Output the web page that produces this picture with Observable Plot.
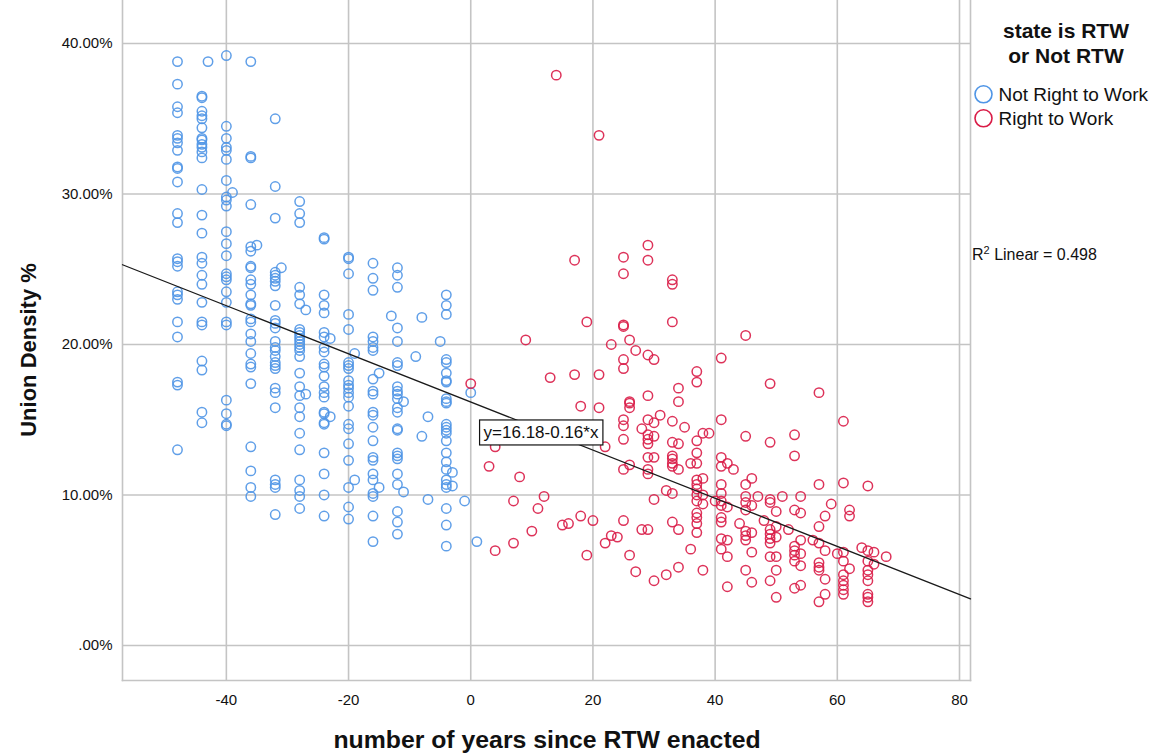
<!DOCTYPE html>
<html>
<head>
<meta charset="utf-8">
<script src="https://cdn.jsdelivr.net/npm/d3@7"></script>
<script src="https://cdn.jsdelivr.net/npm/@observablehq/plot@0.6"></script>
<style>
  body { margin: 0; background: #fff; font-family: "Liberation Sans", Arial, sans-serif; }
  #chart svg { display: block; }
</style>
</head>
<body>
<div id="chart"></div>
<script>
// ---- data ----
const groups = ["Not Right to Work", "Right to Work"];
const groupColors = ["#4f95e6", "#d91c47"];

// Not Right to Work: [years since RTW, [union density % ...]]
const notRtwColumns = [
  [-48, [38.8, 37.3, 35.8, 35.4, 33.9, 33.7, 33.4, 32.9, 31.8, 31.7, 30.8, 28.7, 28.1, 25.7, 25.5, 25.2, 23.5, 23.3, 23.0, 21.5, 20.5, 17.5, 17.3, 13.0]],
  [-44, [36.5, 36.4, 35.5, 35.2, 35.0, 34.4, 33.7, 33.6, 33.3, 33.1, 32.8, 32.4, 30.3, 28.6, 27.4, 25.8, 25.4, 24.6, 24.0, 22.8, 21.5, 21.3, 18.9, 18.3, 15.5, 14.8]],
  [-43, [38.8]],
  [-40, [39.2, 34.5, 33.7, 33.1, 32.9, 32.3, 30.9, 29.8, 29.6, 29.2, 27.5, 26.7, 25.9, 24.7, 24.5, 24.3, 23.5, 22.8, 21.5, 21.3, 16.3, 15.4, 14.7, 14.6]],
  [-39, [30.1]],
  [-36, [38.8, 32.5, 32.4, 29.3, 26.5, 26.2, 25.2, 25.1, 24.3, 24.0, 23.3, 22.7, 22.6, 21.7, 21.5, 20.7, 20.2, 19.4, 18.7, 18.5, 17.4, 13.2, 11.6, 10.5, 9.9]],
  [-35, [26.6]],
  [-32, [35.0, 30.5, 28.4, 24.8, 24.6, 24.4, 24.2, 23.9, 22.6, 21.6, 21.4, 21.1, 20.2, 19.8, 19.6, 19.2, 18.8, 18.6, 18.4, 17.1, 16.8, 15.8, 11.0, 10.7, 10.5, 8.7]],
  [-31, [25.1]],
  [-28, [29.5, 28.7, 28.1, 23.8, 23.3, 22.7, 21.0, 20.8, 20.6, 20.4, 20.2, 20.0, 19.8, 19.6, 19.2, 18.1, 17.2, 16.6, 15.8, 15.2, 14.1, 13.0, 11.0, 10.3, 9.9, 9.1]],
  [-27, [22.3, 16.7]],
  [-24, [27.0, 27.1, 23.3, 22.6, 22.1, 20.8, 20.5, 19.8, 19.5, 18.7, 18.5, 17.9, 17.2, 16.8, 16.5, 15.5, 15.4, 14.8, 14.7, 12.8, 11.4, 10.0, 8.6]],
  [-23, [20.4, 15.2]],
  [-20, [25.8, 25.7, 24.7, 22.0, 21.0, 18.8, 18.6, 18.4, 17.6, 17.3, 17.1, 16.8, 16.5, 15.9, 14.7, 14.4, 13.4, 12.3, 10.5, 9.2, 8.4]],
  [-19, [19.4, 11.0]],
  [-16, [25.4, 24.4, 23.6, 20.5, 20.2, 19.8, 19.6, 17.7, 16.9, 16.7, 15.5, 15.3, 14.5, 13.6, 12.5, 12.3, 11.4, 11.0, 10.1, 9.9, 8.6, 6.9]],
  [-15, [18.1, 10.5]],
  [-13, [21.9]],
  [-12, [25.1, 24.6, 23.8, 21.1, 20.2, 18.8, 18.6, 17.2, 16.9, 16.7, 16.4, 15.8, 15.5, 14.4, 14.3, 12.8, 12.6, 12.4, 11.4, 10.7, 8.9, 8.2, 7.4]],
  [-11, [16.2, 10.2]],
  [-9, [19.2]],
  [-8, [21.8, 13.9]],
  [-7, [15.2, 9.7]],
  [-5, [20.2]],
  [-4, [23.3, 22.6, 22.0, 19.0, 18.8, 18.1, 17.6, 17.5, 16.4, 16.2, 16.1, 14.7, 14.5, 14.3, 14.1, 13.6, 12.8, 12.2, 11.7, 11.0, 10.7, 10.5, 9.1, 8.0, 6.6]],
  [-3, [11.5, 10.6]],
  [-1, [9.6]],
  [0, [16.8]],
  [1, [6.9]]
];

// Right to Work: [years since RTW, [union density % ...]]
const rtwColumns = [
  [0, [17.4]], [3, [11.9]], [4, [13.2, 6.3]], [7, [9.6, 6.8]], [8, [11.2]], [9, [20.3]],
  [10, [7.6]], [11, [9.1]], [12, [9.9]], [13, [17.8]], [14, [37.9]], [15, [8.0]], [16, [8.1]],
  [17, [25.6, 18.0]], [18, [15.9, 8.6]], [19, [21.5, 6.0]], [20, [8.3]], [21, [33.9, 18.0, 15.8]],
  [22, [13.2, 6.8]], [23, [20.0, 7.3]], [24, [7.2]],
  [25, [25.8, 24.7, 21.3, 21.2, 19.0, 18.4, 15.0, 14.6, 13.7, 11.7, 8.3]],
  [26, [20.3, 16.2, 16.1, 15.8, 12.0, 6.0]], [27, [19.6, 4.9]], [28, [14.4, 7.7]],
  [29, [26.6, 25.6, 19.3, 16.6, 15.0, 14.0, 13.7, 13.4, 12.5, 11.7, 11.4, 7.7]],
  [30, [19.0, 14.8, 13.9, 12.5, 9.7, 4.3]], [31, [15.3]], [32, [10.3, 4.7]],
  [33, [24.3, 24.0, 21.5, 14.9, 13.5, 12.6, 12.4, 12.1, 11.9, 10.1, 8.2]],
  [34, [17.1, 16.2, 13.4, 11.7, 7.7, 5.2]], [35, [14.5]], [36, [12.1, 6.4]],
  [37, [18.2, 17.5, 13.6, 12.8, 12.1, 11.0, 10.7, 10.4, 10.0, 9.6, 8.8, 8.5, 8.1, 7.5]],
  [38, [14.1, 11.1, 10.0, 9.4, 5.0]], [39, [14.1]], [40, [9.6]],
  [41, [19.1, 15.0, 12.5, 11.9, 10.7, 10.1, 9.6, 9.3, 8.5, 8.2, 7.1, 6.4]],
  [42, [12.1, 9.2, 7.0, 5.9, 3.9]], [43, [11.7]], [44, [8.1]],
  [45, [20.6, 13.9, 10.7, 9.9, 9.5, 9.0, 7.6, 7.3, 7.0, 5.0]],
  [46, [11.1, 9.3, 7.5, 6.2, 4.2]], [47, [9.9]], [48, [8.3]],
  [49, [17.4, 13.5, 9.7, 9.5, 7.7, 7.4, 7.1, 6.8, 5.9, 4.3]],
  [50, [8.9, 7.9, 7.2, 5.9, 5.0, 3.2]], [51, [9.9]], [52, [7.7]],
  [53, [14.0, 12.6, 9.0, 6.6, 6.3, 6.0, 5.6, 3.8]],
  [54, [9.9, 8.8, 7.0, 6.1, 5.3, 4.0]], [56, [7.0]],
  [57, [16.8, 10.7, 7.9, 6.8, 5.5, 5.2, 5.0, 2.9]],
  [58, [8.6, 6.3, 4.4, 3.4]], [59, [9.4]], [60, [6.1]],
  [61, [14.9, 10.8, 6.2, 5.6, 4.7, 4.3, 4.0, 3.7, 3.4]],
  [62, [9.0, 8.6, 5.1]], [64, [6.5]],
  [65, [10.6, 6.3, 5.6, 5.0, 4.7, 4.3, 3.4, 3.2, 2.9]],
  [66, [6.2, 5.4]], [68, [5.9]]
];

const xTicks = [-40, -20, 0, 20, 40, 60, 80];
const yTicks = [0, 10, 20, 30, 40];
const fitIntercept = 16.18;
const fitSlope = -0.16;
const rSquared = 0.498;
const legendTitle = ["state is RTW", "or Not RTW"];
const xTitle = "number of years since RTW enacted";
const yTitle = "Union Density %";

// ---- build table ----
const points = [
  ...notRtwColumns.flatMap(([x, ys]) => ys.map(y => ({x, y, group: groups[0]}))),
  ...rtwColumns.flatMap(([x, ys]) => ys.map(y => ({x, y, group: groups[1]})))
];
const xDomain = [-57, 81.8];
const yDomain = [-2.33, 42.86];
const fitLine = xDomain.map(x => ({x, y: fitIntercept + fitSlope * x}));
const eqX = 2.1, eqY = 14.15;
const eqLabel = `y=${fitIntercept}${fitSlope < 0 ? "-" : "+"}${Math.abs(fitSlope)}*x`;

const gridColor = "#c4c4c4";
const chart = Plot.plot({
  width: 1164,
  height: 756,
  marginLeft: 122,
  marginRight: 194,
  marginTop: 0,
  marginBottom: 76,
  style: {fontFamily: "'Liberation Sans', Arial, sans-serif", fontSize: "15px", background: "#fff", color: "#111"},
  x: {domain: xDomain, ticks: xTicks, tickFormat: d => String(d), tickSize: 0, tickPadding: 14, label: null},
  y: {domain: yDomain, ticks: yTicks, tickFormat: d => (d === 0 ? ".00%" : d.toFixed(2) + "%"), tickSize: 0, tickPadding: 10, label: null},
  color: {domain: groups, range: groupColors},
  marks: [
    Plot.gridX(xTicks, {stroke: gridColor, strokeOpacity: 1, strokeWidth: 1.6}),
    Plot.gridY(yTicks, {stroke: gridColor, strokeOpacity: 1, strokeWidth: 1.6}),
    Plot.frame({anchor: "left", stroke: gridColor, strokeWidth: 1.6}),
    Plot.frame({anchor: "bottom", stroke: gridColor, strokeWidth: 1.6}),
    Plot.frame({anchor: "right", stroke: gridColor, strokeWidth: 1.6}),
    Plot.dot(points, {x: "x", y: "y", stroke: "group", r: 4.7, strokeWidth: 1.5, fill: "none", strokeOpacity: 0.9}),
    Plot.line(fitLine, {x: "x", y: "y", stroke: "#1a1a1a", strokeWidth: 1.3}),
    Plot.text([eqLabel], {x: eqX, y: eqY, text: d => d, textAnchor: "start", fontSize: 17, fill: "#111"})
  ]
});
document.getElementById("chart").appendChild(chart);

const svg = d3.select(chart);
// box around equation label
svg.selectAll("text").filter(function () { return this.textContent === eqLabel; }).each(function () {
  const bb = this.getBBox();
  const rect = document.createElementNS("http://www.w3.org/2000/svg", "rect");
  d3.select(rect)
    .attr("x", bb.x - 4).attr("y", bb.y - 3)
    .attr("width", bb.width + 8).attr("height", bb.height + 6)
    .attr("fill", "#fff").attr("stroke", "#111").attr("stroke-width", 1.2);
  const tr = this.getAttribute("transform");
  if (tr) rect.setAttribute("transform", tr);
  this.parentNode.insertBefore(rect, this);
});

const font = "'Liberation Sans', Arial, sans-serif";
// axis titles
svg.append("text").attr("x", 547).attr("y", 748).attr("text-anchor", "middle")
  .attr("font-family", font).attr("font-weight", "bold").attr("font-size", 24.8).attr("fill", "#111").text(xTitle);
svg.append("text").attr("transform", "translate(36,350) rotate(-90)").attr("text-anchor", "middle")
  .attr("font-family", font).attr("font-weight", "bold").attr("font-size", 22).attr("fill", "#111").text(yTitle);

// R² label
const r2 = svg.append("text").attr("x", 972).attr("y", 260).attr("text-anchor", "start")
  .attr("font-family", font).attr("font-size", 16).attr("fill", "#111");
r2.append("tspan").text("R");
r2.append("tspan").attr("dy", -6).attr("font-size", 11).text("2");
r2.append("tspan").attr("dy", 6).text(` Linear = ${rSquared}`);

// legend
legendTitle.forEach((t, i) => {
  svg.append("text").attr("x", 1066).attr("y", 38 + i * 25).attr("text-anchor", "middle")
    .attr("font-family", font).attr("font-weight", "bold").attr("font-size", 21).attr("fill", "#111").text(t);
});
groups.forEach((gname, i) => {
  svg.append("circle").attr("cx", 983.5).attr("cy", 94.3 + i * 24).attr("r", 8.5)
    .attr("fill", "none").attr("stroke", groupColors[i]).attr("stroke-width", 1.6);
  svg.append("text").attr("x", 998.5).attr("y", 101 + i * 24).attr("text-anchor", "start")
    .attr("font-family", font).attr("font-size", 19).attr("fill", "#111").text(gname);
});
</script>
</body>
</html>
